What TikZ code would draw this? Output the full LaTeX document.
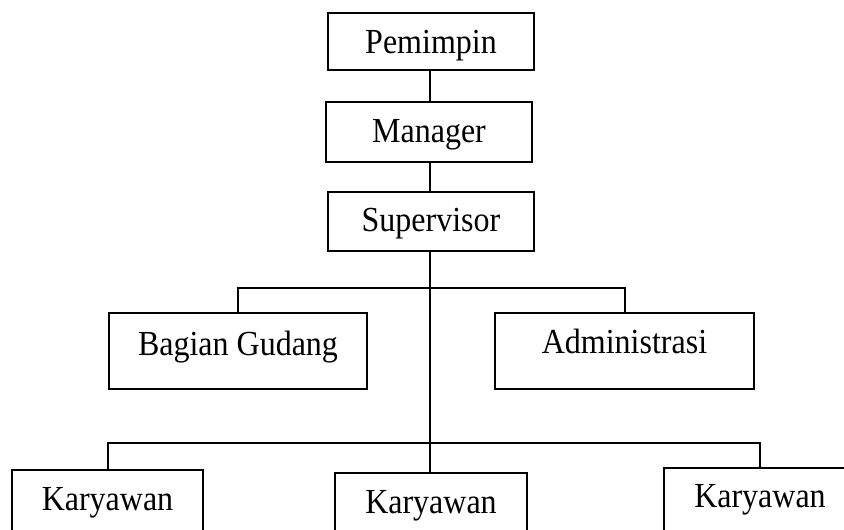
\documentclass[tikz,border=0pt]{standalone}
\usepackage{fontspec}
\setmainfont{Liberation Serif}

\tikzset{
  unit/.style={draw, line width=1.5pt, anchor=north, inner xsep=0pt, inner ysep=0pt,
    font=\fontsize{24}{28}\selectfont},
  link/.style={line width=1.5pt}
}
\newcommand{\tall}[1]{\scalebox{1}[1.1]{#1}}

\begin{document}
\begin{tikzpicture}[x=0.75pt, y=-0.75pt]
  	\clip (0,0) rectangle (844,530);

  	% top of the chart
  	\node[unit, minimum width=154.5pt, text height=30.75pt, text depth=12pt]
    		(pemimpin) at (431,12) {\tall{Pemimpin}};
  	\node[unit, minimum width=154.5pt, text height=30.75pt, text depth=14.25pt]
    		(manager) at (429,101) {\tall{Manager}};
  	\node[unit, minimum width=154.5pt, text height=30pt, text depth=14.25pt]
    		(supervisor) at (431,191) {\tall{Supervisor}};

  	% staff
  	\node[unit, minimum width=193.5pt, text height=32.25pt, text depth=24.75pt]
    		(gudang) at (238,312) {\tall{Bagian Gudang}};
  	\node[unit, minimum width=194.25pt, text height=30.75pt, text depth=26.25pt]
    		(admin) at (624.5,312) {\tall{Administrasi}};

  	% bottom row
  	\node[unit, minimum width=143.25pt, text height=30.75pt, text depth=30pt]
    		(karyawan1) at (107.5,469) {\tall{Karyawan}};
  	\node[unit, minimum width=144pt, text height=30.75pt, text depth=30pt]
    		(karyawan2) at (431,472) {\tall{Karyawan}};
  	\node[unit, minimum width=144pt, text height=30pt, text depth=30pt]
    		(karyawan3) at (760,467) {\tall{Karyawan}};

  	\coordinate (split1) at (430,288);
  	\coordinate (split2) at (430,443);

  	\draw[link] (pemimpin.south -| split1) -- (manager.north -| split1);
  	\draw[link] (manager.south -| split1) -- (supervisor.north -| split1);
  	\draw[link] (supervisor.south -| split1) -- (karyawan2.north -| split1);
  	\draw[link] (gudang.north) |- (split1) -| (admin.north);
  	\draw[link] (karyawan1.north) |- (split2) -| (karyawan3.north);
\end{tikzpicture}
\end{document}
